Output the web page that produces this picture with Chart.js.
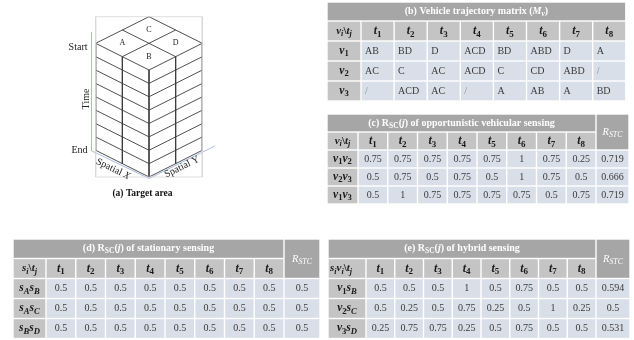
<!DOCTYPE html>
<html>
<head>
<meta charset="utf-8">
<script src="https://cdn.jsdelivr.net/npm/chart.js@4.4.0/dist/chart.umd.min.js"></script>
<style>
html, body { margin: 0; padding: 0; background: #fff; }
#wrap { width: 634px; height: 340px; }
</style>
</head>
<body>
<div id="wrap"><canvas id="fig" width="634" height="340"></canvas></div>
<script>
// ---- data ----
const timeSlots = ['t1', 't2', 't3', 't4', 't5', 't6', 't7', 't8'];
const zones = ['A', 'B', 'C', 'D'];
const vehicles = ['v1', 'v2', 'v3'];
const trajectory = [
    ['AB', 'BD', 'D', 'ACD', 'BD', 'ABD', 'D', 'A'],
    ['AC', 'C', 'AC', 'ACD', 'C', 'CD', 'ABD', '/'],
    ['/', 'ACD', 'AC', '/', 'A', 'AB', 'A', 'BD']
];
const vehPairs = ['v1v2', 'v2v3', 'v1v3'];
const vehRsc = [
    [0.75, 0.75, 0.75, 0.75, 0.75, 1, 0.75, 0.25],
    [0.5, 0.75, 0.5, 0.75, 0.5, 1, 0.75, 0.5],
    [0.5, 1, 0.75, 0.75, 0.75, 0.75, 0.5, 0.75]
];
const vehRstc = ['0.719', '0.666', '0.719'];
const statPairs = ['sAsB', 'sAsC', 'sBsD'];
const statRsc = [
    [0.5, 0.5, 0.5, 0.5, 0.5, 0.5, 0.5, 0.5],
    [0.5, 0.5, 0.5, 0.5, 0.5, 0.5, 0.5, 0.5],
    [0.5, 0.5, 0.5, 0.5, 0.5, 0.5, 0.5, 0.5]
];
const statRstc = ['0.5', '0.5', '0.5'];
const hybPairs = ['v1sB', 'v2sC', 'v3sD'];
const hybRsc = [
    [0.5, 0.5, 0.5, 1, 0.5, 0.75, 0.5, 0.5],
    [0.5, 0.25, 0.5, 0.75, 0.25, 0.5, 1, 0.25],
    [0.25, 0.75, 0.75, 0.25, 0.5, 0.75, 0.5, 0.5]
];
const hybRstc = ['0.594', '0.5', '0.531'];

// ---- layout / styles ----
const SERIF = '"Liberation Serif", "Times New Roman", serif';
const C_TITLE = '#a6a6a6';
const C_HEAD = '#c4c4c4';
const C_CELL = '#d9dfe8';
const C_TEXT = '#3a3a3a';
const C_BOX = '#3c3c3c';
const C_AXIS = '#a9bedf';

// block of the 3d target area
const cube = { lx: 95.7, cx: 149, rx: 202.3, topY: 16.7, sideY: 43.3, frontY: 70, h: 107 };

function fnt(flags, size) {
    const s = flags.includes('s') ? size * 0.75 : size;
    return (flags.includes('i') ? 'italic ' : '') + (flags.includes('b') ? 'bold ' : '') + s + 'px ' + SERIF;
}

function richWidth(ctx, parts, size) {
    let w = 0;
    parts.forEach(p => { ctx.font = fnt(p[1], size); w += ctx.measureText(p[0]).width; });
    return w;
}

function drawRich(ctx, parts, x, y, align, size, color) {
    const w = richWidth(ctx, parts, size);
    let cx = align === 'center' ? x - w / 2 : (align === 'right' ? x - w : x);
    ctx.fillStyle = color;
    ctx.textAlign = 'left';
    ctx.textBaseline = 'middle';
    parts.forEach(p => {
        ctx.font = fnt(p[1], size);
        ctx.fillText(p[0], cx, y + (p[1].includes('s') ? size * 0.28 : 0));
        cx += ctx.measureText(p[0]).width;
    });
}

// 'v1v2' -> v bold italic + subscript 1 ...
function mathLabel(str) {
    const parts = [];
    for (let i = 0; i < str.length; i++) {
        const ch = str[i];
        if (i % 2 === 0) parts.push([ch, 'bi']);
        else parts.push([ch, /[0-9]/.test(ch) ? 'bs' : 'bis']);
    }
    return parts;
}

function titleParts(what) {
    return [['(' + what[0] + ') R', 'b'], ['SC', 'bs'], ['(', 'b'], ['j', 'bi'], [') of ' + what[1], 'b']];
}

const tables = [
    {
        x0: 327, col0: 34, colW: 33.1, rW: 0, yT: 2, yH: 21, hH: 20, rowH: 20,
        title: [['(b) Vehicle trajectory matrix (', 'b'], ['M', 'bi'], ['v', 'bis'], [')', 'b']],
        corner: [['v', 'bi'], ['i', 'bis'], ['\\', 'b'], ['t', 'bi'], ['j', 'bis']],
        rows: vehicles, cells: trajectory, rstc: null, left: true
    },
    {
        x0: 327, col0: 31, colW: 29.75, rW: 33, yT: 114, yH: 132, hH: 18, rowH: 18,
        title: titleParts(['c', 'opportunistic vehicular sensing']),
        corner: [['v', 'bi'], ['i', 'bis'], ['\\', 'b'], ['t', 'bi'], ['j', 'bis']],
        rows: vehPairs, cells: vehRsc, rstc: vehRstc, left: false
    },
    {
        x0: 13, col0: 33, colW: 29.75, rW: 36, yT: 239, yH: 258.5, hH: 20, rowH: 20,
        title: titleParts(['d', 'stationary sensing']),
        corner: [['s', 'bi'], ['i', 'bis'], ['\\', 'b'], ['t', 'bi'], ['j', 'bis']],
        rows: statPairs, cells: statRsc, rstc: statRstc, left: false
    },
    {
        x0: 328, col0: 38, colW: 28.75, rW: 34, yT: 239, yH: 258.5, hH: 20, rowH: 20,
        title: titleParts(['e', 'hybrid sensing']),
        corner: [['s', 'bi'], ['i', 'bis'], ['v', 'bi'], ['i', 'bis'], ['\\', 'b'], ['t', 'bi'], ['j', 'bis']],
        rows: hybPairs, cells: hybRsc, rstc: hybRstc, left: false, cornerLeft: true
    }
];

function fmt(v) { return String(v); }

function drawTable(ctx, X, Y, t) {
    const n = timeSlots.length;
    const g = 0.7;
    const cell = (x1, y1, x2, y2, col) => {
        ctx.fillStyle = col;
        const a = X(x1), b = Y(y1), c = X(x2), d = Y(y2);
        ctx.fillRect(a + g, b + g, c - a - 2 * g, d - b - 2 * g);
    };
    const xCol = i => t.x0 + t.col0 + i * t.colW;          // left edge of time column i
    const xEnd = xCol(n);
    const yRow = r => t.yH + t.hH + r * t.rowH;

    // title band and R_STC header
    cell(t.x0, t.yT, xEnd, t.yH, C_TITLE);
    drawRich(ctx, t.title, X((t.x0 + xEnd) / 2), Y((t.yT + t.yH) / 2), 'center', 10, '#ffffff');
    if (t.rstc) {
        cell(xEnd, t.yT, xEnd + t.rW, t.yH + t.hH, C_TITLE);
        drawRich(ctx, [['R', 'i'], ['STC', 'is']], X(xEnd + t.rW / 2), Y((t.yT + t.yH + t.hH) / 2), 'center', 10.5, '#ffffff');
    }

    // header row
    cell(t.x0, t.yH, xCol(0), t.yH + t.hH, C_HEAD);
    ctx.save();
    ctx.beginPath();
    ctx.rect(X(t.x0), Y(t.yH), X(xCol(0)) - X(t.x0) - g, Y(t.yH + t.hH) - Y(t.yH));
    ctx.clip();
    if (t.cornerLeft) drawRich(ctx, t.corner, X(t.x0 + 2), Y(t.yH + t.hH / 2), 'left', 11, '#1a1a1a');
    else drawRich(ctx, t.corner, X(t.x0 + t.col0 / 2), Y(t.yH + t.hH / 2), 'center', 11, '#1a1a1a');
    ctx.restore();
    timeSlots.forEach((ts, i) => {
        cell(xCol(i), t.yH, xCol(i + 1), t.yH + t.hH, C_HEAD);
        drawRich(ctx, mathLabel(ts), X(xCol(i) + t.colW / 2), Y(t.yH + t.hH / 2), 'center', 12, '#1a1a1a');
    });

    // body rows
    t.rows.forEach((lab, r) => {
        const y1 = yRow(r), y2 = yRow(r + 1), ym = (y1 + y2) / 2;
        cell(t.x0, y1, xCol(0), y2, C_HEAD);
        drawRich(ctx, mathLabel(lab), X(t.x0 + t.col0 / 2), Y(ym), 'center', 11.5, '#1a1a1a');
        t.cells[r].forEach((v, i) => {
            cell(xCol(i), y1, xCol(i + 1), y2, C_CELL);
            const txt = fmt(v);
            const col = txt === '/' ? '#8a8a8a' : C_TEXT;
            if (t.left) drawRich(ctx, [[txt, '']], X(xCol(i) + 4), Y(ym), 'left', 10, col);
            else drawRich(ctx, [[txt, '']], X(xCol(i) + t.colW / 2), Y(ym), 'center', 10, col);
        });
        if (t.rstc) {
            cell(xEnd, y1, xEnd + t.rW, y2, C_CELL);
            drawRich(ctx, [[t.rstc[r], '']], X(xEnd + t.rW / 2), Y(ym), 'center', 10, C_TEXT);
        }
    });
}

// line segments of the target-area block, one dataset each
function seg(a, b, color, width) {
    return { data: [{ x: a[0], y: a[1] }, { x: b[0], y: b[1] }], showLine: true, borderColor: color,
             borderWidth: width, pointRadius: 0, fill: false };
}

const layers = timeSlots.length;
const lh = cube.h / layers;
const L = [cube.lx, cube.sideY], T = [cube.cx, cube.topY], R = [cube.rx, cube.sideY], F = [cube.cx, cube.frontY];
const mid = (p, q) => [(p[0] + q[0]) / 2, (p[1] + q[1]) / 2];
const down = (p, k) => [p[0], p[1] + k];
const boxSegs = [];

// frame behind the picture
boxSegs.push(seg([cube.lx, cube.topY], [cube.rx, cube.topY], '#d6d6d6', 0.8));
boxSegs.push(seg([cube.lx, cube.topY], [cube.lx, cube.frontY + cube.h], '#d6d6d6', 0.8));
boxSegs.push(seg([cube.rx, cube.topY], [cube.rx, cube.frontY + cube.h], '#d6d6d6', 0.8));
boxSegs.push(seg([cube.lx, cube.frontY + cube.h], [cube.rx, cube.frontY + cube.h], '#d6d6d6', 0.8));
// axes
const axO = [cube.lx - 4.2, cube.sideY + cube.h + 0.5];
boxSegs.push(seg([axO[0], 32], axO, C_AXIS, 1));
boxSegs.push(seg(axO, [cube.cx, cube.frontY + cube.h + 1.5], C_AXIS, 1));
boxSegs.push(seg([cube.cx, cube.frontY + cube.h + 1.5], [215, 146], C_AXIS, 1));
// top face
boxSegs.push(seg(L, T, C_BOX, 0.9), seg(T, R, C_BOX, 0.9), seg(R, F, C_BOX, 0.9), seg(F, L, C_BOX, 0.9));
boxSegs.push(seg(mid(L, T), mid(F, R), C_BOX, 0.9), seg(mid(T, R), mid(L, F), C_BOX, 0.9));
// vertical edges
[L, mid(L, F), F, mid(F, R), R].forEach(p => boxSegs.push(seg(p, down(p, cube.h), C_BOX, 0.9)));
// time layers
for (let k = 1; k <= layers; k++) {
    boxSegs.push(seg(down(L, k * lh), down(F, k * lh), C_BOX, 0.9));
    boxSegs.push(seg(down(F, k * lh), down(R, k * lh), C_BOX, 0.9));
}

const figurePlugin = {
    id: 'figurePlugin',
    afterDatasetsDraw(chart) {
        const ctx = chart.ctx;
        const sx = chart.scales.x, sy = chart.scales.y;
        const X = v => sx.getPixelForValue(v);
        const Y = v => sy.getPixelForValue(v);
        ctx.save();

        // zone letters on the top face
        const centers = { A: mid(L, mid(T, F)), B: mid(F, mid(L, R)), C: mid(T, mid(L, R)), D: mid(R, mid(T, F)) };
        zones.forEach(z => {
            const c = centers[z];
            drawRich(ctx, [[z, '']], X(c[0]), Y(c[1]), 'center', 8, '#222');
        });
        drawRich(ctx, [['Start', '']], X(87.5), Y(cube.sideY + 4), 'right', 10, '#222');
        drawRich(ctx, [['End', '']], X(87.5), Y(cube.sideY + cube.h), 'right', 10, '#222');

        ctx.save();
        ctx.translate(X(86), Y(99));
        ctx.rotate(-Math.PI / 2);
        drawRich(ctx, [['Time', '']], 0, 0, 'center', 10, '#222');
        ctx.restore();

        ctx.save();
        ctx.translate(X(113), Y(169));
        ctx.rotate(26 * Math.PI / 180);
        drawRich(ctx, [['Spatial ', ''], ['X', 'i']], 0, 0, 'center', 10, '#222');
        ctx.restore();

        ctx.save();
        ctx.translate(X(182), Y(167));
        ctx.rotate(-26 * Math.PI / 180);
        drawRich(ctx, [['Spatial Y', '']], 0, 0, 'center', 10, '#222');
        ctx.restore();

        drawRich(ctx, [['(a) Target area', 'b']], X(142.5), Y(194), 'center', 9.5, '#111');

        tables.forEach(t => drawTable(ctx, X, Y, t));
        ctx.restore();
    }
};

new Chart(document.getElementById('fig').getContext('2d'), {
    type: 'scatter',
    data: { datasets: boxSegs },
    options: {
        responsive: false,
        animation: false,
        devicePixelRatio: 1,
        layout: { padding: 0 },
        plugins: { legend: { display: false }, tooltip: { enabled: false } },
        scales: {
            x: { type: 'linear', min: 0, max: 634, display: false },
            y: { type: 'linear', min: 0, max: 340, reverse: true, display: false }
        }
    },
    plugins: [figurePlugin]
});
</script>
</body>
</html>
